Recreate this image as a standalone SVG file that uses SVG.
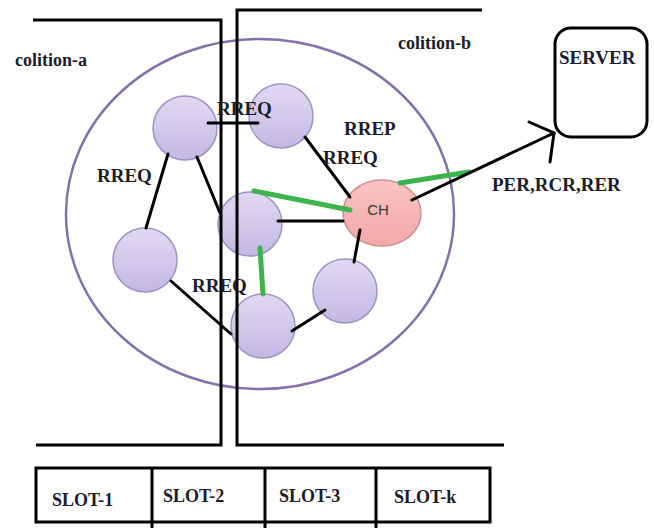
<svg xmlns="http://www.w3.org/2000/svg" width="654" height="528" viewBox="0 0 654 528">
<style>
.lbl{font-family:"Liberation Serif","Times New Roman",serif;font-weight:bold;font-size:19px;fill:#1c1c2a}
.ln{stroke:#000;stroke-width:3;fill:none;stroke-linecap:round}
.gr{stroke:#3cb44b;stroke-width:5;fill:none;stroke-linecap:round}
.br{stroke:#000;stroke-width:3;fill:none}
.node{fill:url(#lav);stroke:#a193c6;stroke-width:1.5}
</style>
<defs>
<linearGradient id="lav" x1="0" y1="0" x2="0" y2="1">
<stop offset="0" stop-color="#e0d9f2"/>
<stop offset="1" stop-color="#c4b8e3"/>
</linearGradient>
<linearGradient id="pink" x1="0" y1="0" x2="0" y2="1">
<stop offset="0" stop-color="#f9c4c4"/>
<stop offset="1" stop-color="#f2a7a7"/>
</linearGradient>
</defs>
<rect width="654" height="528" fill="#fff"/>
<ellipse cx="260" cy="214" rx="194" ry="175" fill="none" stroke="#8470ac" stroke-width="2.5"/>
<g id="n1"><circle class="node" cx="185" cy="128" r="32"/></g>
<g id="n2"><circle class="node" cx="281" cy="116" r="32"/></g>
<g id="n3"><circle class="node" cx="250" cy="224" r="32"/></g>
<g id="n4"><circle class="node" cx="145" cy="260" r="32"/></g>
<g id="n5"><circle class="node" cx="263" cy="326" r="32"/></g>
<g id="n6"><circle class="node" cx="345" cy="291" r="32"/></g>
<g id="ch"><ellipse cx="382" cy="213" rx="39" ry="33" fill="url(#pink)" stroke="#d08f8f" stroke-width="1.5"/>
<text x="378" y="215" text-anchor="middle" font-family="Liberation Sans,Arial,sans-serif" font-size="15" fill="#3a3a3a">CH</text></g>
<g id="server"><rect x="555" y="28" width="92" height="109" rx="16" fill="#fff" stroke="#000" stroke-width="3"/>
<text class="lbl" x="559" y="64">SERVER</text></g>
<g id="brackets">
<polyline class="br" points="33,20 221,20 221,445 36,445"/>
<polyline class="br" points="482,10 237,10 237,445 504,445"/>
</g>
<g id="connectors">
<line class="ln" x1="168" y1="154" x2="146" y2="228"/>
<line class="ln" x1="197" y1="157" x2="220" y2="213"/>
<line class="ln" x1="208" y1="123" x2="258" y2="123"/>
<line class="ln" x1="305" y1="137" x2="350" y2="197"/>
<line class="ln" x1="278" y1="221" x2="343" y2="221"/>
<line class="ln" x1="171" y1="281" x2="231" y2="334"/>
<line class="ln" x1="292" y1="331" x2="325" y2="310"/>
<line class="ln" x1="360" y1="230" x2="354" y2="262"/>
<line class="gr" x1="254" y1="191" x2="350" y2="210"/>
<line class="gr" x1="260" y1="248" x2="263" y2="294"/>
<line class="gr" x1="400" y1="183" x2="469" y2="172"/>
<line class="ln" x1="412" y1="200" x2="554" y2="133"/>
<polyline class="ln" points="529,122 554,133 550,162"/>
</g>
<g id="labels">
<text class="lbl" x="15" y="66" style="font-size:18px">colition-a</text>
<text class="lbl" x="398" y="49" style="font-size:18px">colition-b</text>
<text class="lbl" x="217" y="115">RREQ</text>
<text class="lbl" x="97" y="182">RREQ</text>
<text class="lbl" x="344" y="135">RREP</text>
<text class="lbl" x="323" y="164">RREQ</text>
<text class="lbl" x="192" y="292">RREQ</text>
<text class="lbl" x="492" y="191">PER,RCR,RER</text>
</g>
<g id="slots">
<rect x="36" y="468" width="454" height="54" fill="none" stroke="#000" stroke-width="3"/>
<line class="br" x1="152" y1="468" x2="152" y2="528"/>
<line class="br" x1="265" y1="468" x2="265" y2="528"/>
<line class="br" x1="376" y1="468" x2="376" y2="528"/>
<text class="lbl" x="52" y="506" style="font-size:18px">SLOT-1</text>
<text class="lbl" x="163" y="502" style="font-size:18px">SLOT-2</text>
<text class="lbl" x="279" y="502" style="font-size:18px">SLOT-3</text>
<text class="lbl" x="394" y="503" style="font-size:18px">SLOT-k</text>
</g>
</svg>
